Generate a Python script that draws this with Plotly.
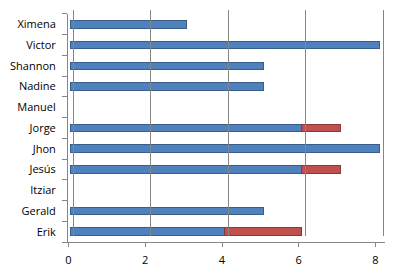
import plotly.graph_objects as go

names = ["Erik", "Gerald", "Itziar", "Jesús", "Jhon", "Jorge", "Manuel", "Nadine", "Shannon", "Victor", "Ximena"]
series1 = [4, 5, None, 6, 8, 6, None, 5, 5, 8, 3]
series2 = [2, None, None, 1, None, 1, None, None, None, None, None]
x_ticks = [0, 2, 4, 6, 8]

W, H = 403, 277
ml, mr, mt, mb = 68, 18, 10, 31
pw = W - ml - mr
ph = H - mt - mb

def rng(x0px, x8px):
    per = (x8px - x0px) / 8.0
    return [(ml - x0px) / per, (W - mr - x0px) / per]

def ydom(top_px, bot_px):
    return [(mt + ph - bot_px) / ph, (mt + ph - top_px) / ph]

fig = go.Figure()

fig.add_trace(go.Scatter(x=[None], y=[None], xaxis="x3", yaxis="y3", showlegend=False, hoverinfo="skip"))

fig.add_trace(go.Bar(y=names, x=series1, orientation="h", name="Serie 1",
                     marker=dict(color="#4F81BD", line=dict(color="#385D8A", width=1)), width=0.36))
fig.add_trace(go.Bar(y=names, x=series2, orientation="h", name="Serie 2",
                     marker=dict(color="#C0504D", line=dict(color="#8C3836", width=1)), width=0.36))
fig.add_trace(go.Scatter(x=[None], y=[None], xaxis="x2", yaxis="y", showlegend=False, hoverinfo="skip"))

font = dict(family="'Open Sans', 'Liberation Sans', sans-serif", size=11, color="#000000")

fig.update_layout(
    width=W, height=H,
    margin=dict(l=ml, r=mr, t=mt, b=mb),
    paper_bgcolor="white", plot_bgcolor="rgba(0,0,0,0)",
    barmode="stack", showlegend=False, font=font,
    xaxis=dict(range=rng(70.5, 379), showgrid=False, zeroline=False, showticklabels=False,
               showline=False, ticks="", domain=[0, 1]),
    xaxis2=dict(range=rng(68.5, 375.5), overlaying="x", anchor="y", side="bottom",
                tickvals=x_ticks, ticktext=[str(v) for v in x_ticks], showgrid=False, zeroline=False,
                showline=True, linecolor="#868686", linewidth=1, ticks="outside", ticklen=4,
                tickcolor="#868686", tickfont=font, ticklabelstandoff=4),
    yaxis=dict(domain=ydom(14, 245), categoryorder="array", categoryarray=names,
               showline=True, linecolor="#868686", linewidth=1, ticks="outside", ticklen=5,
               tickcolor="#868686", tickson="boundaries", showgrid=False, zeroline=False,
               tickfont=font, range=[-0.5, len(names) - 0.5], ticklabelstandoff=9),
    xaxis3=dict(range=rng(73, 383), anchor="y3", showgrid=True, gridcolor="#868686", gridwidth=1,
                tickvals=x_ticks, zeroline=True, zerolinecolor="#868686", zerolinewidth=1,
                showticklabels=False, ticks="", showline=False, domain=[0, 1]),
    yaxis3=dict(domain=ydom(10, 239), anchor="x3", showgrid=False, zeroline=False,
                showticklabels=False, ticks="", showline=False, range=[0, 1]),
)

fig.write_html("out.html")
